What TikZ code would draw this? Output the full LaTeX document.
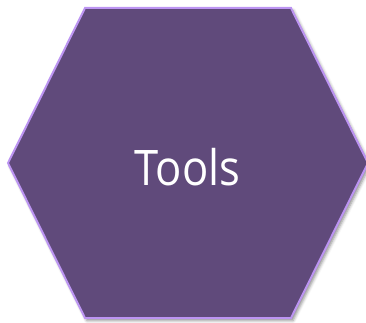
\documentclass[tikz,border=0pt]{standalone}
\usepackage{fontspec}
\setmainfont{Open Sans}
\newfontfamily\lblfont[FakeStretch=0.89]{Open Sans}
\usetikzlibrary{shadows.blur}
\definecolor{hexfill}{HTML}{604A7B}
\definecolor{hexline}{HTML}{BC94F2}
\tikzset{hexstyle/.style={fill=hexfill, draw=hexline, line width=2pt, line join=miter,
  blur shadow={shadow xshift=2pt, shadow yshift=-2.5pt, shadow blur radius=3pt, shadow opacity=45}},
  lbl/.style={text=white, font=\lblfont\fontsize{49}{49}\selectfont, inner sep=0pt}}
\begin{document}
\begin{tikzpicture}[x=1pt,y=1pt]
\useasboundingbox (0,0) rectangle (366,322);
\coordinate (v1) at (85,314);
\coordinate (v2) at (291,314);
\coordinate (v3) at (368,159);
\coordinate (v4) at (291,4);
\coordinate (v5) at (85,4);
\coordinate (v6) at (8,159);
\path[hexstyle] (v1) -- (v2) -- (v3) -- (v4) -- (v5) -- (v6) -- cycle;
\node[lbl, anchor=base] (t) at (187.5,137) {Tools};
\end{tikzpicture}
\end{document}
